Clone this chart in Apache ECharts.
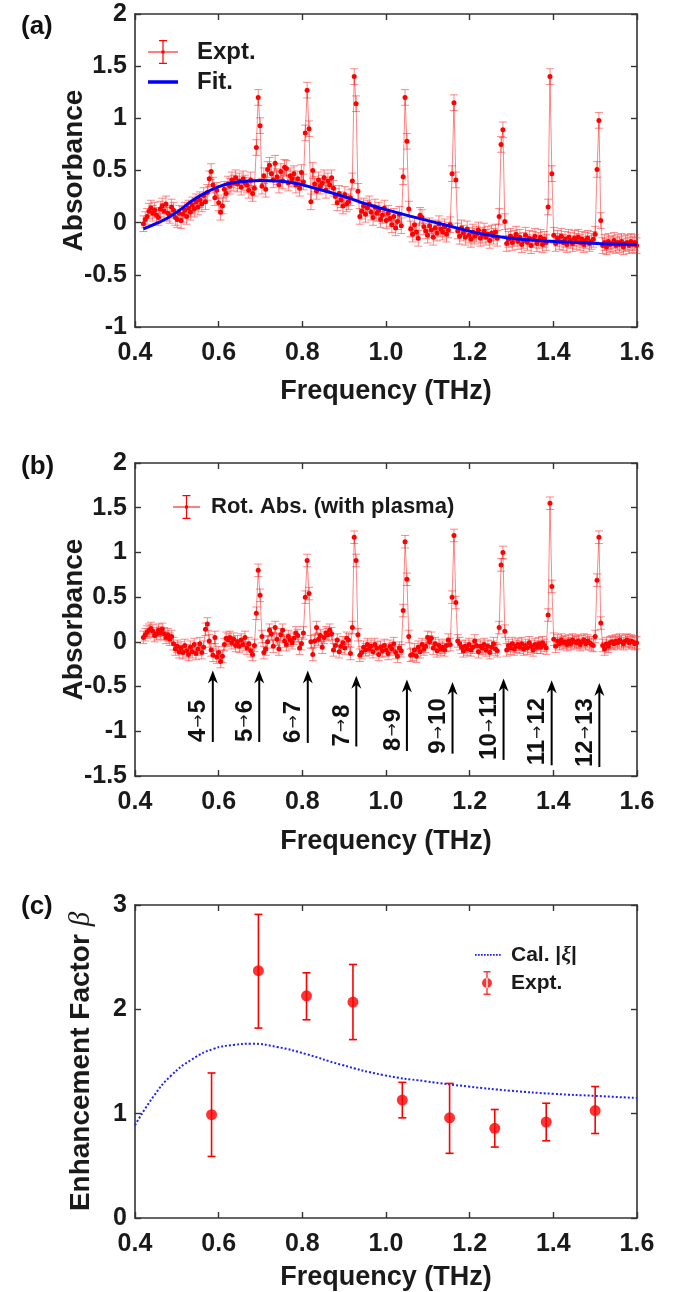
<!DOCTYPE html>
<html>
<head>
<meta charset="utf-8">
<script src="https://cdn.jsdelivr.net/npm/echarts@6/dist/echarts.min.js"></script>
<style>
  html, body { margin: 0; padding: 0; background: #fff; }
  #main { width: 674px; height: 1292px; }
</style>
</head>
<body>
<div id="main"></div>
<script>
"use strict";

// measurement grid (THz), shared by panels (a) and (b)
var freq = [
    0.4200, 0.4245, 0.4290, 0.4335, 0.4380, 0.4425, 0.4470, 0.4515, 0.4560, 0.4605,
    0.4650, 0.4695, 0.4740, 0.4785, 0.4830, 0.4875, 0.4920, 0.4965, 0.5010, 0.5055,
    0.5100, 0.5145, 0.5190, 0.5235, 0.5280, 0.5325, 0.5370, 0.5415, 0.5460, 0.5505,
    0.5550, 0.5595, 0.5640, 0.5685, 0.5730, 0.5775, 0.5820, 0.5865, 0.5910, 0.5955,
    0.6000, 0.6045, 0.6090, 0.6135, 0.6180, 0.6225, 0.6270, 0.6315, 0.6360, 0.6405,
    0.6450, 0.6495, 0.6540, 0.6585, 0.6630, 0.6675, 0.6720, 0.6765, 0.6810, 0.6855,
    0.6900, 0.6945, 0.6990, 0.7035, 0.7080, 0.7125, 0.7170, 0.7215, 0.7260, 0.7305,
    0.7350, 0.7395, 0.7440, 0.7485, 0.7530, 0.7575, 0.7620, 0.7665, 0.7710, 0.7755,
    0.7800, 0.7845, 0.7890, 0.7935, 0.7980, 0.8025, 0.8070, 0.8115, 0.8160, 0.8205,
    0.8250, 0.8295, 0.8340, 0.8385, 0.8430, 0.8475, 0.8520, 0.8565, 0.8610, 0.8655,
    0.8700, 0.8745, 0.8790, 0.8835, 0.8880, 0.8925, 0.8970, 0.9015, 0.9060, 0.9105,
    0.9150, 0.9195, 0.9240, 0.9285, 0.9330, 0.9375, 0.9420, 0.9465, 0.9510, 0.9555,
    0.9600, 0.9645, 0.9690, 0.9735, 0.9780, 0.9825, 0.9870, 0.9915, 0.9960, 1.0005,
    1.0050, 1.0095, 1.0140, 1.0185, 1.0230, 1.0275, 1.0320, 1.0365, 1.0410, 1.0455,
    1.0500, 1.0545, 1.0590, 1.0635, 1.0680, 1.0725, 1.0770, 1.0815, 1.0860, 1.0905,
    1.0950, 1.0995, 1.1040, 1.1085, 1.1130, 1.1175, 1.1220, 1.1265, 1.1310, 1.1355,
    1.1400, 1.1445, 1.1490, 1.1535, 1.1580, 1.1625, 1.1670, 1.1715, 1.1760, 1.1805,
    1.1850, 1.1895, 1.1940, 1.1985, 1.2030, 1.2075, 1.2120, 1.2165, 1.2210, 1.2255,
    1.2300, 1.2345, 1.2390, 1.2435, 1.2480, 1.2525, 1.2570, 1.2615, 1.2660, 1.2705,
    1.2750, 1.2795, 1.2840, 1.2885, 1.2930, 1.2975, 1.3020, 1.3065, 1.3110, 1.3155,
    1.3200, 1.3245, 1.3290, 1.3335, 1.3380, 1.3425, 1.3470, 1.3515, 1.3560, 1.3605,
    1.3650, 1.3695, 1.3740, 1.3785, 1.3830, 1.3875, 1.3920, 1.3965, 1.4010, 1.4055,
    1.4100, 1.4145, 1.4190, 1.4235, 1.4280, 1.4325, 1.4370, 1.4415, 1.4460, 1.4505,
    1.4550, 1.4595, 1.4640, 1.4685, 1.4730, 1.4775, 1.4820, 1.4865, 1.4910, 1.4955,
    1.5000, 1.5045, 1.5090, 1.5135, 1.5180, 1.5225, 1.5270, 1.5315, 1.5360, 1.5405,
    1.5450, 1.5495, 1.5540, 1.5585, 1.5630, 1.5675, 1.5720, 1.5765, 1.5810, 1.5855,
    1.5900, 1.5945, 1.5990
];

// (a) measured absorbance
var absA = [
    -0.01, 0.03, 0.06, 0.11, 0.14, 0.09, 0.12, 0.07, 0.05, 0.13,
    0.16, 0.11, 0.18, 0.09, 0.07, 0.15, 0.12, 0.05, 0.03, 0.09,
    0.02, 0.08, 0.12, 0.06, 0.14, 0.10, 0.17, 0.13, 0.20, 0.15,
    0.22, 0.18, 0.26, 0.20, 0.29, 0.42, 0.49, 0.36, 0.24, 0.31,
    0.19, 0.10, 0.16, 0.32, 0.28, 0.37, 0.35, 0.41, 0.38, 0.43,
    0.37, 0.40, 0.34, 0.42, 0.38, 0.36, 0.31, 0.41, 0.28, 0.33,
    0.72, 1.20, 0.93, 0.35, 0.45, 0.32, 0.51, 0.55, 0.47, 0.41,
    0.57, 0.44, 0.36, 0.49, 0.40, 0.53, 0.52, 0.38, 0.45, 0.42,
    0.47, 0.36, 0.42, 0.33, 0.48, 0.39, 0.86, 1.27, 0.90, 0.20,
    0.50, 0.37, 0.30, 0.41, 0.35, 0.38, 0.43, 0.31, 0.40, 0.36,
    0.43, 0.33, 0.25, 0.19, 0.28, 0.22, 0.16, 0.27, 0.18, 0.20,
    0.24, 0.40, 1.40, 1.14, 0.30, 0.06, 0.11, 0.16, 0.08, 0.14,
    0.18, 0.10, 0.05, 0.15, 0.09, 0.12, 0.03, 0.07, 0.14, 0.02,
    0.09, 0.04, -0.02, 0.06, -0.05, 0.01, 0.08, -0.03, 0.44, 1.20,
    0.78, 0.13, -0.06, -0.11, -0.02, -0.09, -0.15, 0.07, 0.05, -0.04,
    -0.08, -0.12, -0.03, -0.07, -0.14, -0.05, -0.10, -0.01, -0.06, -0.09,
    -0.04, -0.11, -0.07, -0.02, 0.47, 1.15, 0.41, -0.08, -0.13, -0.05,
    -0.10, -0.14, -0.06, -0.12, -0.16, -0.09, -0.13, -0.11, -0.07, -0.15,
    -0.12, -0.08, -0.14, -0.11, -0.17, -0.10, -0.13, -0.09, -0.15, 0.06,
    0.75, 0.89, 0.01, -0.20, -0.16, -0.13, -0.19, -0.15, -0.11, -0.18,
    -0.14, -0.21, -0.17, -0.12, -0.19, -0.15, -0.22, -0.16, -0.13, -0.20,
    -0.17, -0.14, -0.21, -0.16, -0.19, 0.15, 1.40, 0.47, -0.12, -0.20,
    -0.15, -0.18, -0.13, -0.19, -0.16, -0.21, -0.14, -0.17, -0.20, -0.15,
    -0.18, -0.14, -0.19, -0.16, -0.21, -0.17, -0.15, -0.20, -0.18, -0.16,
    -0.11, 0.51, 0.98, 0.02, -0.22, -0.19, -0.23, -0.18, -0.21, -0.20,
    -0.17, -0.22, -0.19, -0.21, -0.18, -0.23, -0.20, -0.19, -0.22, -0.18,
    -0.21, -0.19, -0.22
];
var errA = 0.075;

// (a) fit curve
var fitFreq = [0.42, 0.45, 0.48, 0.51, 0.54, 0.57, 0.60, 0.63, 0.66, 0.70, 0.74,
    0.78, 0.83, 0.90, 0.96, 1.00, 1.06, 1.14, 1.22, 1.30, 1.38, 1.46, 1.54, 1.60];
var fitVal = [-0.06, -0.01, 0.05, 0.13, 0.22, 0.29, 0.345, 0.38, 0.395, 0.405, 0.40,
    0.38, 0.33, 0.25, 0.17, 0.125, 0.06, -0.02, -0.10, -0.15, -0.175, -0.19, -0.205, -0.21];

// (b) rotational absorbance (with plasma)
var absB = [
    0.05, 0.08, 0.11, 0.13, 0.15, 0.12, 0.07, 0.09, 0.13, 0.10,
    0.14, 0.09, 0.05, 0.08, 0.03, 0.06, -0.02, -0.08, -0.05, -0.11,
    -0.07, -0.12, -0.04, -0.10, -0.14, -0.06, -0.11, -0.03, -0.13, -0.08,
    -0.02, -0.12, -0.06, 0.14, 0.20, 0.01, -0.09, -0.15, 0.05, -0.17,
    -0.12, -0.22, -0.16, -0.03, 0.04, 0.02, 0.05, -0.01, 0.03, -0.04,
    0.00, -0.05, 0.02, -0.03, 0.05, -0.07, -0.02, -0.10, -0.14, -0.04,
    0.32, 0.80, 0.52, 0.06, -0.12, -0.08, 0.00, 0.13, 0.09, -0.05,
    0.16, 0.03, -0.08, 0.08, 0.13, 0.01, -0.03, 0.06, 0.02, -0.01,
    0.04, 0.10, 0.07, -0.07, -0.02, 0.10, 0.50, 0.91, 0.54, 0.00,
    -0.14, 0.01, 0.16, 0.03, 0.07, -0.06, 0.05, 0.10, 0.08, 0.13,
    0.09, -0.09, -0.04, 0.02, -0.11, -0.05, -0.01, -0.07, 0.04, 0.02,
    -0.13, 0.16, 1.17, 0.91, 0.08, -0.15, -0.12, -0.06, -0.09, -0.03,
    -0.08, -0.05, -0.11, -0.03, -0.07, -0.14, -0.06, -0.10, -0.04, -0.09,
    -0.13, -0.05, -0.08, -0.02, -0.12, -0.16, -0.07, -0.10, 0.35, 1.12,
    0.70, 0.06, -0.15, -0.14, -0.09, -0.16, -0.06, -0.11, -0.03, -0.08,
    -0.05, 0.05, 0.00, 0.04, -0.07, -0.02, -0.10, -0.04, -0.08, -0.06,
    -0.09, -0.04, 0.02, -0.03, 0.50, 1.19, 0.44, 0.01, -0.02, -0.06,
    -0.10, -0.05, -0.08, -0.03, -0.09, -0.06, 0.01, -0.04, -0.11, -0.05,
    -0.07, -0.03, -0.09, -0.05, -0.12, -0.06, -0.02, -0.08, -0.10, 0.16,
    0.86, 1.00, 0.12, -0.09, -0.04, -0.07, -0.02, -0.08, -0.05, -0.03,
    -0.06, -0.02, -0.08, -0.04, -0.07, -0.01, -0.05, -0.09, -0.03, -0.06,
    -0.02, -0.06, -0.01, -0.04, -0.07, 0.30, 1.55, 0.62, 0.03, -0.05,
    0.01, -0.02, 0.02, -0.01, 0.00, -0.03, 0.01, -0.02, 0.02, 0.00,
    -0.01, 0.01, -0.03, 0.00, 0.02, -0.02, 0.01, -0.01, -0.03, -0.04,
    0.06, 0.69, 1.17, 0.21, -0.04, -0.08, -0.02, -0.05, -0.01, 0.00,
    -0.02, 0.01, -0.01, 0.02, 0.00, -0.02, 0.01, 0.02, -0.01, 0.01,
    0.00, -0.02, -0.01
];
var errB = 0.07;

// (b) transition arrows
var arrowFreq = [0.586, 0.697, 0.813, 0.929, 1.050, 1.159, 1.281, 1.396, 1.510];
var arrowTop = [-0.32, -0.32, -0.32, -0.38, -0.42, -0.45, -0.41, -0.43, -0.46];
var arrowBottom = [-1.12, -1.12, -1.13, -1.17, -1.22, -1.25, -1.32, -1.38, -1.40];
var arrowLabels = ['4→5', '5→6', '6→7', '7→8', '8→9', '9→10', '10→11', '11→12', '12→13'];

// (c) enhancement factor
var calFreq = [0.40, 0.445, 0.485, 0.536, 0.587, 0.637, 0.678, 0.739, 0.81, 0.892,
    0.994, 1.095, 1.197, 1.298, 1.40, 1.502, 1.60];
var calVal = [0.89, 1.17, 1.36, 1.52, 1.62, 1.66, 1.67, 1.64, 1.57, 1.47,
    1.37, 1.31, 1.26, 1.22, 1.19, 1.17, 1.15];
var expFreq = [0.583, 0.695, 0.81, 0.921, 1.039, 1.152, 1.26, 1.383, 1.50];
var expVal = [0.99, 2.37, 2.13, 2.07, 1.13, 0.96, 0.86, 0.92, 1.03];
var expLow = [0.59, 1.82, 1.90, 1.71, 0.96, 0.62, 0.68, 0.74, 0.81];
var expHigh = [1.39, 2.91, 2.35, 2.43, 1.30, 1.29, 1.04, 1.10, 1.26];

var FONT = '"Liberation Sans", Arial, sans-serif';
var AXIS_COLOR = '#333';
var RED = '#ff0000';

function pairs(xs, ys) {
    return xs.map(function (x, i) { return [x, ys[i]]; });
}
function withErr(xs, ys, err) {
    return xs.map(function (x, i) { return [x, ys[i], ys[i] - err, ys[i] + err]; });
}

function errRenderer(color, width, capHalf) {
    return function (params, api) {
        var x = api.value(0);
        var lo = api.coord([x, api.value(2)]);
        var hi = api.coord([x, api.value(3)]);
        var st = {stroke: color, lineWidth: width};
        return {
            type: 'group',
            children: [
                {type: 'line', shape: {x1: lo[0], y1: lo[1], x2: hi[0], y2: hi[1]}, style: st},
                {type: 'line', shape: {x1: lo[0] - capHalf, y1: lo[1], x2: lo[0] + capHalf, y2: lo[1]}, style: st},
                {type: 'line', shape: {x1: hi[0] - capHalf, y1: hi[1], x2: hi[0] + capHalf, y2: hi[1]}, style: st}
            ]
        };
    };
}

function renderArrow(params, api) {
    var x = api.value(0);
    var top = api.coord([x, api.value(1)]);
    var bot = api.coord([x, api.value(2)]);
    var label = arrowLabels[api.value(3)];
    var parts = label.split('→');
    return {
        type: 'group',
        children: [
            {type: 'line', shape: {x1: bot[0], y1: bot[1], x2: top[0], y2: top[1] + 8},
                style: {stroke: '#000', lineWidth: 2}},
            {type: 'polygon', shape: {points: [[top[0], top[1]], [top[0] - 5, top[1] + 13],
                [top[0], top[1] + 9], [top[0] + 5, top[1] + 13]]},
                style: {fill: '#000'}},
            {type: 'text', x: bot[0] - 14, y: bot[1], rotation: Math.PI / 2,
                style: {
                    text: parts[0] + '{a|→}' + parts[1],
                    font: 'bold 24px ' + FONT,
                    fill: '#111',
                    align: 'left',
                    verticalAlign: 'middle',
                    rich: {a: {font: '16px "DejaVu Sans"', fill: '#111', verticalAlign: 'middle', padding: [0, 1, 0, 1]}}
                }}
        ]
    };
}

var grids = [
    {left: 135, top: 14, width: 502, height: 313},
    {left: 135, top: 463, width: 502, height: 313},
    {left: 135, top: 905, width: 502, height: 313}
];

var xAxes = [];
var yAxes = [];
var yRanges = [[-1, 2, 0.5], [-1.5, 2, 0.5], [0, 3, 1]];
var xNameGaps = [51, 52, 46];
var yNames = ['Absorbance', 'Absorbance', 'Enhancement Factor {i|β}'];
var yNameGaps = [47, 47, 39];

grids.forEach(function (g, gi) {
    ['bottom', 'top'].forEach(function (pos) {
        var main = pos === 'bottom';
        xAxes.push({
            type: 'value', gridIndex: gi, position: pos,
            min: 0.4, max: 1.6, interval: 0.2,
            name: main ? 'Frequency (THz)' : '',
            nameLocation: 'middle', nameGap: xNameGaps[gi], nameMoveOverlap: false,
            nameTextStyle: {fontFamily: FONT, fontWeight: 'bold', fontSize: 27, color: '#1a1a1a'},
            axisLine: {show: true, onZero: false, lineStyle: {color: AXIS_COLOR, width: 1.6}},
            axisTick: {show: true, inside: true, length: 6, lineStyle: {color: AXIS_COLOR, width: 1.4}},
            axisLabel: {show: main, margin: 14, fontFamily: FONT, fontWeight: 'bold', fontSize: 25, color: '#1a1a1a',
                formatter: function (v) { return v.toFixed(1); }},
            splitLine: {show: false}
        });
    });
    ['left', 'right'].forEach(function (pos) {
        var main = pos === 'left';
        var r = yRanges[gi];
        yAxes.push({
            type: 'value', gridIndex: gi, position: pos,
            min: r[0], max: r[1], interval: r[2],
            name: main ? yNames[gi] : '',
            nameLocation: 'middle', nameGap: yNameGaps[gi], nameMoveOverlap: false,
            nameTextStyle: {fontFamily: FONT, fontWeight: 'bold', fontSize: 28, color: '#1a1a1a',
                rich: {i: {fontFamily: '"Liberation Serif", serif', fontStyle: 'italic', fontWeight: 'normal', fontSize: 29, color: '#1a1a1a'}}},
            axisLine: {show: true, onZero: false, lineStyle: {color: AXIS_COLOR, width: 1.6}},
            axisTick: {show: true, inside: true, length: 6, lineStyle: {color: AXIS_COLOR, width: 1.4}},
            axisLabel: {show: main, margin: 8, fontFamily: FONT, fontWeight: 'bold', fontSize: 25, color: '#1a1a1a'},
            splitLine: {show: false}
        });
    });
});

// legend icons (drawn inside itemWidth x itemHeight, corners anchored)
var ebIconA = 'path://M0,0h0.05v0.05h-0.05z M43.95,23.95h0.05v0.05h-0.05z ' +
    'M0,11.4h30v1.2h-30z M14.4,0h1.2v24h-1.2z M11,0h8v1.2h-8z M11,22.8h8v1.2h-8z M13.5,10.5h3v3h-3z';
var fitIcon = 'path://M0,0h0.05v0.05h-0.05z M43.95,23.95h0.05v0.05h-0.05z M0,10.3h30v3.4h-30z';
var ebIconB = 'path://M0,0h0.05v0.05h-0.05z M32.95,23.95h0.05v0.05h-0.05z ' +
    'M0,11.4h27v1.2h-27z M12.9,0h1.2v24h-1.2z M9.5,0h8v1.2h-8z M9.5,22.8h8v1.2h-8z M12,10.5h3v3h-3z';
var calIcon = 'path://M0,0h0.05v0.05h-0.05z M30.95,23.95h0.05v0.05h-0.05z ' +
    'M0,11h1.7v1.8h-1.7z M3,11h1.7v1.8h-1.7z M6,11h1.7v1.8h-1.7z M9,11h1.7v1.8h-1.7z M12,11h1.7v1.8h-1.7z ' +
    'M15,11h1.7v1.8h-1.7z M18,11h1.7v1.8h-1.7z M21,11h1.7v1.8h-1.7z M24,11h1.7v1.8h-1.7z';
var expIconC = 'path://M0,0h0.05v0.05h-0.05z M30.95,23.95h0.05v0.05h-0.05z ' +
    'M8.5,0h7v1.4h-7z M11.3,0h1.4v24h-1.4z M8.5,22.6h7v1.4h-7z M7,12a5,5 0 1,0 10,0a5,5 0 1,0 -10,0z';

var legendText = {fontFamily: FONT, fontWeight: 'bold', color: '#1a1a1a'};

var option = {
    animation: false,
    backgroundColor: '#fff',
    title: [
        {text: '(a)', left: 16, top: 9, textStyle: {fontFamily: FONT, fontWeight: 'bold', fontSize: 26, color: '#111'}},
        {text: '(b)', left: 16, top: 449, textStyle: {fontFamily: FONT, fontWeight: 'bold', fontSize: 26, color: '#111'}},
        {text: '(c)', left: 16, top: 889, textStyle: {fontFamily: FONT, fontWeight: 'bold', fontSize: 26, color: '#111'}}
    ],
    grid: grids,
    xAxis: xAxes,
    yAxis: yAxes,
    legend: [
        {
            left: 143, top: 35, orient: 'vertical', itemGap: 6, itemWidth: 44, itemHeight: 24,
            selectedMode: false,
            data: [{name: 'Expt.', icon: ebIconA}, {name: 'Fit.', icon: fitIcon}],
            textStyle: Object.assign({fontSize: 24}, legendText)
        },
        {
            left: 168, top: 490, itemWidth: 33, itemHeight: 24, selectedMode: false,
            data: [{name: 'Rot. Abs. (with plasma)', icon: ebIconB}],
            textStyle: Object.assign({fontSize: 22}, legendText)
        },
        {
            left: 470, top: 938, orient: 'vertical', itemGap: 4, itemWidth: 31, itemHeight: 24,
            selectedMode: false,
            data: [{name: 'Cal. |ξ|', icon: calIcon}, {name: 'Expt. ', icon: expIconC}],
            formatter: function (name) {
                return name === 'Cal. |ξ|' ? 'Cal. |{i|ξ}|' : name;
            },
            textStyle: Object.assign({fontSize: 21, rich: {
                i: {fontFamily: '"Liberation Serif", serif', fontStyle: 'italic', fontSize: 22, color: '#1a1a1a'}
            }}, legendText)
        }
    ],
    series: [
        // (a)
        {
            type: 'custom', xAxisIndex: 0, yAxisIndex: 0, z: 1,
            renderItem: errRenderer('rgba(255,40,40,0.55)', 1, 4),
            encode: {x: 0, y: 1},
            data: withErr(freq, absA, errA)
        },
        {
            name: 'Expt.', type: 'line', xAxisIndex: 0, yAxisIndex: 0, z: 2,
            data: pairs(freq, absA),
            color: RED,
            symbol: 'circle', symbolSize: 5, showAllSymbol: true,
            itemStyle: {color: RED},
            lineStyle: {color: 'rgba(255,0,0,0.6)', width: 0.8}
        },
        {
            name: 'Fit.', type: 'line', xAxisIndex: 0, yAxisIndex: 0, z: 3,
            data: pairs(fitFreq, fitVal),
            color: '#0000ff', smooth: true, symbol: 'none',
            lineStyle: {color: '#0000ff', width: 3}
        },
        // (b)
        {
            type: 'custom', xAxisIndex: 2, yAxisIndex: 2, z: 1,
            renderItem: errRenderer('rgba(255,40,40,0.55)', 1, 4),
            encode: {x: 0, y: 1},
            data: withErr(freq, absB, errB)
        },
        {
            name: 'Rot. Abs. (with plasma)', type: 'line', xAxisIndex: 2, yAxisIndex: 2, z: 2,
            data: pairs(freq, absB),
            color: RED,
            symbol: 'circle', symbolSize: 5, showAllSymbol: true,
            itemStyle: {color: RED},
            lineStyle: {color: 'rgba(255,0,0,0.6)', width: 0.8}
        },
        {
            type: 'custom', xAxisIndex: 2, yAxisIndex: 2, z: 4,
            renderItem: renderArrow,
            encode: {x: 0, y: 1},
            data: arrowFreq.map(function (x, i) { return [x, arrowTop[i], arrowBottom[i], i]; })
        },
        // (c)
        {
            name: 'Cal. |ξ|', type: 'line', xAxisIndex: 4, yAxisIndex: 4, z: 2,
            data: pairs(calFreq, calVal),
            color: '#1f1fff', smooth: true, symbol: 'none',
            lineStyle: {color: '#1f1fff', width: 2, type: [2, 2]}
        },
        {
            type: 'custom', xAxisIndex: 4, yAxisIndex: 4, z: 3,
            renderItem: errRenderer(RED, 1.6, 4),
            encode: {x: 0, y: 1},
            data: expFreq.map(function (x, i) { return [x, expVal[i], expLow[i], expHigh[i]]; })
        },
        {
            name: 'Expt. ', type: 'scatter', xAxisIndex: 4, yAxisIndex: 4, z: 4,
            data: pairs(expFreq, expVal),
            color: RED, symbol: 'circle', symbolSize: 11,
            itemStyle: {color: RED}
        }
    ]
};

var chart = echarts.init(document.getElementById('main'), null, {renderer: 'canvas'});
chart.setOption(option);
</script>
</body>
</html>
